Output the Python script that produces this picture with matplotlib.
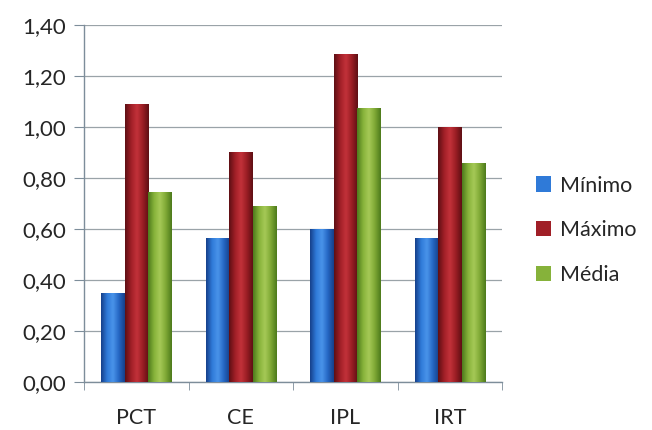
import numpy as np
import matplotlib
matplotlib.use("Agg")
import matplotlib.pyplot as plt
from matplotlib.ticker import FuncFormatter, FixedLocator
from matplotlib.colors import LinearSegmentedColormap

categories = ["PCT", "CE", "IPL", "IRT"]
minimo = [0.35, 0.565, 0.60, 0.565]
maximo = [1.09, 0.90, 1.285, 1.00]
media = [0.745, 0.69, 1.075, 0.86]
series_names = ["Mínimo", "Máximo", "Média"]

# dark edge -> light center -> dark edge for the cylinder look
shades = {
    "Mínimo": ["#16408a", "#2f7ad8", "#4a94ea", "#2567c4", "#16408a"],
    "Máximo": ["#5e0f14", "#a01f27", "#c3323a", "#9a1d24", "#5e0f14"],
    "Média": ["#4d7a1c", "#86b23a", "#a6c957", "#7fa935", "#4d7a1c"],
}

plt.rcParams["font.family"] = ["Lato", "DejaVu Sans"]
text_color = "#262626"

fig = plt.figure(figsize=(6.52, 4.30), dpi=100)
ax = fig.add_axes([0.129, 0.1116, 0.641, 0.8303])

x = np.arange(len(categories))
width = 0.225
grad = np.linspace(0, 1, 64).reshape(1, -1)

for i, (name, vals) in enumerate(zip(series_names, [minimo, maximo, media])):
    cmap = LinearSegmentedColormap.from_list(name, shades[name])
    bars = ax.bar(x + (i - 1) * width, vals, width, color=shades[name][1],
                  edgecolor="none", label=name, zorder=2)
    for b in bars:
        x0, w, h = b.get_x(), b.get_width(), b.get_height()
        im = ax.imshow(grad, cmap=cmap, aspect="auto", extent=[x0, x0 + w, 0, h],
                       zorder=3, interpolation="bicubic")
        im.set_clip_path(b)

ax.set_xlim(-0.5, len(categories) - 0.5)
ax.set_ylim(0, 1.40)
ax.set_yticks(np.arange(0, 1.41, 0.2))
ax.yaxis.set_major_formatter(FuncFormatter(lambda v, p: f"{v:.2f}".replace(".", ",")))
ax.grid(axis="y", color="#9aa3a8", linewidth=0.9, zorder=0)

ax.set_xticks(x)
ax.set_xticklabels(categories)
ax.xaxis.set_minor_locator(FixedLocator(np.arange(-0.5, len(categories), 1.0)))
ax.tick_params(axis="x", which="major", length=0, pad=19, labelsize=15.5, labelcolor=text_color)
ax.tick_params(axis="x", which="minor", length=6, color="#7d8d9a")
ax.tick_params(axis="y", length=7, color="#7d8d9a", labelsize=16, pad=6, labelcolor=text_color)

for side in ["top", "right"]:
    ax.spines[side].set_visible(False)
for side in ["left", "bottom"]:
    ax.spines[side].set_color("#7d8d9a")
    ax.spines[side].set_linewidth(1.0)

leg = ax.legend(loc="center left", bbox_to_anchor=(1.035, 0.425), frameon=False,
                fontsize=15.5, handlelength=0.7, handleheight=0.7,
                handletextpad=0.4, labelspacing=1.15)
for t in leg.get_texts():
    t.set_color(text_color)

fig.savefig("out.png", dpi=100)
